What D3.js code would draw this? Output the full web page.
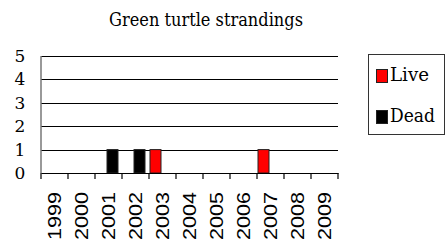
<!DOCTYPE html>
<head>
  <style>
    body { margin: 0; background: #fff; }
  </style>
<title>Green turtle strandings</title>
</head>
<body>
  <script src="https://cdn.jsdelivr.net/npm/d3@7"></script>
  <script>
    // data
    var years = ["1999", "2000", "2001", "2002", "2003", "2004", "2005", "2006", "2007", "2008", "2009"];
    var series = ["Live", "Dead"];
    var live = [0, 0, 0, 0, 1, 0, 0, 0, 1, 0, 0];
    var dead = [0, 0, 1, 1, 0, 0, 0, 0, 0, 0, 0];
    var yTicks = [0, 1, 2, 3, 4, 5];
    var colors = { Live: "#ff0000", Dead: "#000000" };

    var serifFont = "'DejaVu Serif', serif";
    var sansFont = "'Liberation Sans', Arial, Helvetica, sans-serif";

    var width = 445, height = 244;
    var plotLeft = 41, plotRight = 338, plotTop = 56, plotBottom = 173;

    var svg = d3.select("body").append("svg")
      .attr("width", width)
      .attr("height", height);

    var x = d3.scaleBand().domain(years).range([plotLeft, plotRight]).padding(0);
    var inner = d3.scaleBand().domain(series).range([1, 23]).padding(0);
    var y = d3.scaleLinear().domain([0, 5]).range([plotBottom, plotTop]);

    // gridlines
    svg.append("g")
      .selectAll("line")
      .data(yTicks.slice(1))
      .enter()
      .append("line")
      .attr("x1", plotLeft).attr("x2", plotRight)
      .attr("y1", function(d) { return Math.round(y(d)) + 0.5; })
      .attr("y2", function(d) { return Math.round(y(d)) + 0.5; })
      .attr("stroke", "#000")
      .attr("stroke-width", 1);

    // bars
    var rows = [];
    years.forEach(function(yr, i) {
      rows.push({ year: yr, s: "Live", v: live[i] });
      rows.push({ year: yr, s: "Dead", v: dead[i] });
    });
    svg.append("g")
      .selectAll("rect")
      .data(rows.filter(function(d) { return d.v > 0; }))
      .enter()
      .append("rect")
      .attr("x", function(d) { return x(d.year) + inner(d.s); })
      .attr("y", function(d) { return y(d.v); })
      .attr("width", inner.bandwidth())
      .attr("height", function(d) { return y(0) - y(d.v); })
      .attr("fill", function(d) { return colors[d.s]; })
      .attr("stroke", "#222")
      .attr("stroke-width", 1);

    // y axis
    svg.append("line")
      .attr("x1", plotLeft).attr("x2", plotLeft)
      .attr("y1", plotTop).attr("y2", plotBottom)
      .attr("stroke", "#777").attr("stroke-width", 1.5);
    svg.append("g")
      .selectAll("text")
      .data(yTicks)
      .enter()
      .append("text")
      .attr("x", 20)
      .attr("y", function(d) { return y(d) + 6; })
      .attr("text-anchor", "middle")
      .style("font-family", serifFont)
      .style("font-size", "17px")
      .text(function(d) { return d; });

    // x axis
    var xAxis = svg.append("g")
      .attr("transform", "translate(0," + plotBottom + ")")
      .call(d3.axisBottom(x).tickSize(0).tickFormat(""));
    xAxis.select(".domain").attr("stroke", "#000").attr("stroke-width", 1.2);
    svg.append("g")
      .selectAll("line")
      .data(years.concat(["end"]))
      .enter()
      .append("line")
      .attr("x1", function(d, i) { return i < years.length ? x(d) : x.range()[1]; })
      .attr("x2", function(d, i) { return i < years.length ? x(d) : x.range()[1]; })
      .attr("y1", plotBottom).attr("y2", plotBottom + 6)
      .attr("stroke", "#000").attr("stroke-width", 1.2);

    svg.append("g")
      .selectAll("text")
      .data(years)
      .enter()
      .append("text")
      .attr("transform", function(d) {
        return "translate(" + (x(d) + x.bandwidth() / 2 + 6) + "," + 240 + ") rotate(-90)";
      })
      .attr("textLength", 48)
      .attr("lengthAdjust", "spacingAndGlyphs")
      .style("font-family", sansFont)
      .style("font-size", "18px")
      .text(function(d) { return d; });

    // title
    svg.append("text")
      .attr("x", 206)
      .attr("y", 26)
      .attr("text-anchor", "middle")
      .attr("textLength", 194)
      .attr("lengthAdjust", "spacingAndGlyphs")
      .style("font-family", serifFont)
      .style("font-size", "19px")
      .text("Green turtle strandings");

    // legend
    var lg = svg.append("g");
    lg.append("rect")
      .attr("x", 368.5).attr("y", 54.5)
      .attr("width", 76).attr("height", 80)
      .attr("fill", "#fff").attr("stroke", "#333");
    var items = lg.selectAll("g.item")
      .data(series)
      .enter()
      .append("g")
      .attr("class", "item")
      .attr("transform", function(d, i) { return "translate(376," + (69 + i * 41) + ")"; });
    items.append("rect")
      .attr("x", 0.5).attr("y", 0.5)
      .attr("width", 11).attr("height", 13)
      .attr("fill", function(d) { return colors[d]; })
      .attr("stroke", "#222");
    items.append("text")
      .attr("x", 14)
      .attr("y", 12)
      .attr("textLength", function(d) { return d === "Live" ? 39 : 45; })
      .attr("lengthAdjust", "spacingAndGlyphs")
      .style("font-family", serifFont)
      .style("font-size", "18px")
      .text(function(d) { return d; });
  </script>
</body>
